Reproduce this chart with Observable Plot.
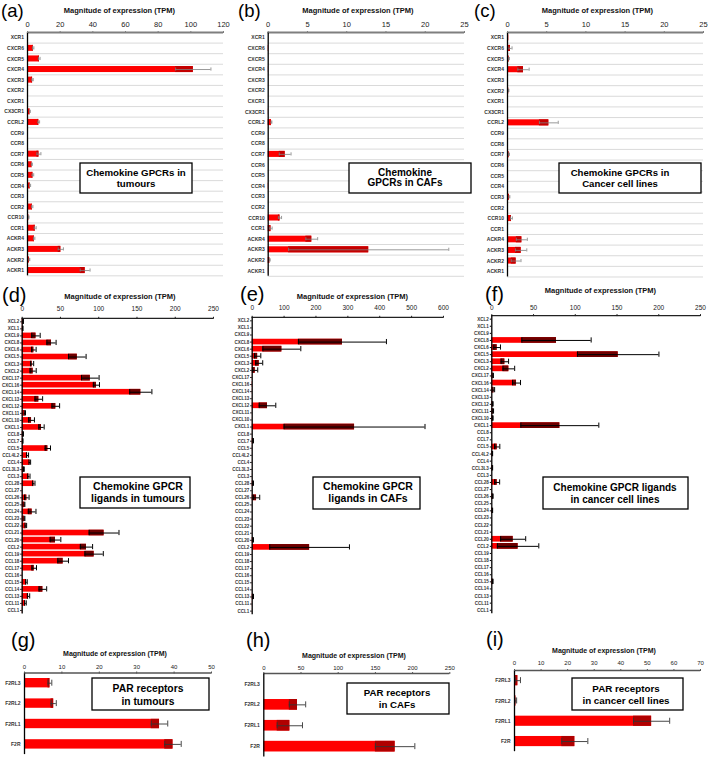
<!DOCTYPE html>
<html><head><meta charset="utf-8">
<script src="https://cdn.jsdelivr.net/npm/d3@7"></script>
<script src="https://cdn.jsdelivr.net/npm/@observablehq/plot@0.6"></script>
<style>
body{margin:0;background:#fff;}
#chart{position:relative;width:709px;height:758px;overflow:hidden;background:#fff;font-family:"Liberation Sans",Arial,sans-serif;}
</style></head><body><div id="chart"></div>
<script>
// ---------- DATA ----------
const receptorCats = ["XCR1","CXCR6","CXCR5","CXCR4","CXCR3","CXCR2","CXCR1","CX3CR1","CCRL2","CCR9","CCR8","CCR7","CCR6","CCR5","CCR4","CCR3","CCR2","CCR10","CCR1","ACKR4","ACKR3","ACKR2","ACKR1"];
const tumourReceptorVals = [0.3,3.5,7.2,101.5,3.1,0.5,0.5,1.5,6.9,0.2,0.5,7.0,2.7,3.3,1.6,0.3,2.9,0.8,4.7,4.1,20.4,1.2,35.3];
const tumourReceptorErrs = [0,0.4,0.5,10.8,0.4,0,0,0.2,0.5,0,0,1.2,0.3,0.5,0.3,0,0.4,0.1,0.6,0.4,1.6,0.2,3.0];
const cafReceptorVals = [0,0.05,0,0.02,0,0,0,0.02,0.42,0,0,2.16,0,0,0.03,0,0,1.5,0.35,5.55,12.8,0.2,0.02];
const cafReceptorErrs = [0,0,0,0,0,0,0,0,0.05,0,0,0.75,0,0,0,0,0,0.2,0.15,0.75,10.2,0.05,0];
const cellReceptorVals = [0.17,0.38,0.2,2.04,0.05,0.15,0.02,0.02,5.27,0.05,0.03,0.2,0.02,0.02,0.1,0.25,0.02,0.5,0.05,1.83,1.74,1.1,0];
const cellReceptorErrs = [0,0.2,0.05,0.72,0,0.03,0,0,1.2,0,0,0.05,0,0,0,0.05,0,0.12,0,0.7,0.72,0.62,0];

const ligandCats = ["XCL2","XCL1","CXCL9","CXCL8","CXCL6","CXCL5","CXCL3","CXCL2","CXCL17","CXCL16","CXCL14","CXCL13","CXCL12","CXCL11","CXCL10","CXCL1","CCL8","CCL7","CCL5","CCL4L2","CCL4","CCL3L3","CCL3","CCL28","CCL27","CCL26","CCL25","CCL24","CCL23","CCL22","CCL21","CCL20","CCL2","CCL19","CCL18","CCL17","CCL16","CCL15","CCL14","CCL13","CCL11","CCL1"];
const tumourLigandVals = [1.3,0.8,18,38.3,15.2,72,13,14.3,89,97,155,21.7,43.9,3.5,12.2,25.2,1.3,0.8,33.5,7,10,2.2,8.7,15.2,0.3,6,3,13,3,4.8,107,43.5,84,94,53.5,15.7,0.3,5.6,27,8.3,4.3,0.3];
const tumourLigandErrs = [0.3,0.2,5.5,6,3,11.5,2,4,11.5,4,14.5,5,5,0.8,3.8,3.5,0.3,0.2,3.5,1.3,1,0.5,1.5,1.5,0,3,0.5,5,0.5,1,19.5,7,8,12,7,3,0,1,5,1.5,1,0];
const cafLigandVals = [0,0,0,283,93,17,22,9.4,0.5,1,0.5,0.3,48,0.3,0.3,321,0.3,3,0.5,0.2,0.2,0.2,0.3,3,0.2,13.6,0.3,0.2,0.2,0.2,0.2,3,180,0.3,0.3,0.3,0.3,0.3,0.3,3,0.5,0.3];
const cafLigandErrs = [0,0,0,138,59.5,10,11,8,0,0,0,0,26,0,0,221,0,1,0,0,0,0,0,1,0,10,0,0,0,0,0,1,125,0,0,0,0,0,0,1,0,0];
const cellLigandVals = [0.2,0.1,0.1,77.5,6.4,151.4,15.6,20.4,1.6,29.6,2.4,0.2,1.2,1.6,1.2,81.5,0.1,0.1,6.4,0.8,0.2,0.8,0.1,6.4,0.2,1.2,0.1,0.8,0.1,0.1,0.1,25.6,31.5,0.1,0.1,0.1,0.1,1.2,0.1,0.1,0.1,0.1];
const cellLigandErrs = [0,0,0,41.5,4,48.8,4.5,7,0.3,4.8,1,0,0.4,0.5,0.4,46.7,0,0,3.2,0.2,0,0.2,0,3,0,0.4,0,0.2,0,0,0,15,24.8,0,0,0,0,0.3,0,0,0,0];

const parCats = ["F2RL3","F2RL2","F2RL1","F2R"];
const tumourParVals = [6.8,7.8,36.1,39.7];
const tumourParErrs = [0.5,0.7,2.2,2.2];
const cafParVals = [0,45.3,35,176.5];
const cafParErrs = [0,11,17,26.5];
const cellParVals = [1.25,0.5,51.6,22.7];
const cellParErrs = [1,0.3,6.8,4.9];

const ticksA = [0,20,40,60,80,100,120];
const ticks25 = [0,5,10,15,20,25];
const ticks250 = [0,50,100,150,200,250];
const ticks600 = [0,100,200,300,400,500,600];
const ticks50 = [0,10,20,30,40,50];
const ticks70 = [0,10,20,30,40,50,60,70];

const axisTitle = "Magnitude of expression (TPM)";
const letters = ["(a)","(b)","(c)","(d)","(e)","(f)","(g)","(h)","(i)"];
const boxTexts = [
  ["Chemokine GPCRs in","tumours"],
  ["Chemokine","GPCRs in CAFs"],
  ["Chemokine GPCRs in","Cancer cell lines"],
  ["Chemokine GPCR","ligands in tumours"],
  ["Chemokine GPCR","ligands in CAFs"],
  ["Chemokine GPCR ligands","in cancer cell lines"],
  ["PAR receptors","in tumours"],
  ["PAR receptors","in CAFs"],
  ["PAR receptors","in cancer cell lines"]
];

// ---------- LAYOUT / STYLE ----------
const FONT = "Liberation Sans, Arial, sans-serif";
const root = document.getElementById("chart");

const styleTop = {axis:"#7f7f7f", axisW:1.8, err:"#7f7f7f", errW:0.8, dark:"#c40000", cap:1.6, grid:true, tf:7.5, lf:5, yts:0, ytp:3.5};
const styleMid = {axis:"#222", axisW:1.3, err:"#000", errW:1, dark:"#6e0000", cap:2.6, grid:false, tf:6.5, lf:4.5, yts:1.5, ytp:1.5};
const styleBot = {axis:"#555", axisW:1.3, err:"#333", errW:0.9, dark:"#b00000", cap:3, grid:false, tf:6, lf:5, yts:0, ytp:4};

function panel(p) {
  const cats = p.cats, n = cats.length;
  const svgTop = Math.floor(p.top - 24);
  const bottom = p.top + n * p.step;
  const height = Math.ceil(bottom + 3 - svgTop);
  const data = cats.map((c, i) => ({i, v: p.vals[i], e: p.errs[i]}));
  const ed = data.filter(d => d.e > 0);
  const h = (1 - p.pad) / 2;
  const cap = p.cap / p.step;
  const lo = d => Math.max(0, d.v - d.e), hi = d => d.v + d.e;
  const marks = [];
  if (p.grid) marks.push(Plot.ruleY(data, {y: d => d.i + 0.5, x1: 0, x2: p.max, stroke: "#d0d0d0", strokeWidth: 0.8}));
  marks.push(
    Plot.rect(data, {x1: 0, x2: "v", y1: d => d.i - h, y2: d => d.i + h, fill: "#ff0000"}),
    Plot.rect(ed, {x1: lo, x2: "v", y1: d => d.i - h, y2: d => d.i + h, fill: p.dark}),
    Plot.ruleY(ed, {y: "i", x1: lo, x2: hi, stroke: p.err, strokeWidth: p.errW}),
    Plot.ruleX(ed, {x: hi, y1: d => d.i - cap, y2: d => d.i + cap, stroke: p.err, strokeWidth: p.errW}),
    Plot.ruleX(ed.filter(d => d.v - d.e > 0), {x: lo, y1: d => d.i - cap, y2: d => d.i + cap, stroke: p.err, strokeWidth: p.errW}),
    Plot.ruleY([-0.5], {x1: 0, x2: p.max, stroke: p.axis, strokeWidth: p.axisW}),
    Plot.ruleX([0], {stroke: "#000", strokeWidth: 1.3}),
    Plot.axisX({anchor: "top", ticks: p.ticks, tickSize: 2, tickPadding: p.tp, fontSize: p.tf, stroke: p.axis, fill: "#222", label: null}),
    Plot.axisY({anchor: "left", ticks: d3.range(n), tickFormat: i => cats[i], tickSize: p.yts, tickPadding: p.ytp, fontSize: p.lf, fontWeight: "bold", fill: "#333", stroke: "#000", label: null})
  );
  const svg = Plot.plot({
    width: p.width, height,
    marginLeft: p.x0 - p.left, marginRight: p.width - (p.x1 - p.left),
    marginTop: p.top - svgTop, marginBottom: height - (bottom - svgTop),
    x: {domain: [0, p.max]},
    y: {domain: [-0.5, n - 0.5], reverse: true},
    style: {fontFamily: FONT, background: "none", overflow: "visible", color: "#222"},
    marks
  });
  svg.style.position = "absolute";
  svg.style.left = p.left + "px";
  svg.style.top = svgTop + "px";
  root.appendChild(svg);
}

const panels = [
  {...styleTop, cats: receptorCats, vals: tumourReceptorVals, errs: tumourReceptorErrs, max: 120, ticks: ticksA, left: 0, width: 235, x0: 27, x1: 223, top: 32, step: 10.58, pad: 0.43, tp: 3.3},
  {...styleTop, cats: receptorCats, vals: cafReceptorVals, errs: cafReceptorErrs, max: 25, ticks: ticks25, left: 236, width: 234, x0: 267.7, x1: 464, top: 32, step: 10.6, pad: 0.43, tp: 3.3},
  {...styleTop, cats: receptorCats, vals: cellReceptorVals, errs: cellReceptorErrs, max: 25, ticks: ticks25, left: 470, width: 239, x0: 507, x1: 703, top: 32, step: 10.63, pad: 0.43, tp: 3.3},
  {...styleMid, cats: ligandCats, vals: tumourLigandVals, errs: tumourLigandErrs, max: 250, ticks: ticks250, left: 0, width: 236, x0: 21.7, x1: 213, top: 317.8, step: 7.04, pad: 0.2, tp: 5},
  {...styleMid, cats: ligandCats, vals: cafLigandVals, errs: cafLigandErrs, max: 600, ticks: ticks600, left: 236, width: 234, x0: 251.7, x1: 443, top: 316.8, step: 7.08, pad: 0.2, tp: 5},
  {...styleMid, cats: ligandCats, vals: cellLigandVals, errs: cellLigandErrs, max: 250, ticks: ticks250, left: 470, width: 239, x0: 491.3, x1: 700, top: 315.1, step: 7.1, pad: 0.2, tp: 4},
  {...styleBot, cats: parCats, vals: tumourParVals, errs: tumourParErrs, max: 50, ticks: ticks50, left: 0, width: 236, x0: 24, x1: 211, top: 672.5, step: 20.4, pad: 0.54, tp: 2.5},
  {...styleBot, cats: parCats, vals: cafParVals, errs: cafParErrs, max: 250, ticks: ticks250, left: 236, width: 234, x0: 263.3, x1: 449.3, top: 673, step: 20.9, pad: 0.49, tp: 1.5},
  {...styleBot, cats: parCats, vals: cellParVals, errs: cellParErrs, max: 70, ticks: ticks70, left: 470, width: 239, x0: 514, x1: 700, top: 670, step: 20.3, pad: 0.5, tp: 4}
];
panels.forEach(panel);

// ---------- ANNOTATIONS ----------
const letterPos = [[1,17,18.5],[238,17,18.5],[474,17,18.5],[2,302,20],[240,300.5,20],[485,300.5,20],[11,646.5,20],[246,646.5,20],[486,646,20]];
const titlePos = [[119.5,10,7.5],[358,10,7.5],[597.5,10,7.5],[120,296.7,7.5],[352.5,296,7.5],[600.5,290.7,7.5],[115,653,7],[354,655,7],[604,650.7,7]];
const boxPos = [
  {x:80,y:163,w:112,h:30,cx:136,ly:[172.3,183.3],fs:9.7},
  {x:349,y:163,w:122,h:30,cx:405,ly:[172.3,182.7],fs:10},
  {x:559,y:163,w:142,h:30,cx:620,ly:[172.3,183.3],fs:9.6},
  {x:80,y:477,w:110,h:31,cx:138,ly:[486,498.7],fs:10.5},
  {x:313,y:477,w:107,h:32,cx:368,ly:[486.3,498.7],fs:10.5},
  {x:543,y:477,w:145,h:32,cx:615,ly:[487,499.3],fs:10},
  {x:92,y:678,w:117,h:32,cx:148,ly:[688.3,701],fs:10.3},
  {x:347,y:683,w:102,h:31,cx:397,ly:[692.7,704.3],fs:9.7},
  {x:572,y:678,w:111,h:32,cx:626,ly:[688.3,700.7],fs:9.8}
];

const ov = d3.create("svg").attr("width", 709).attr("height", 758)
  .style("position", "absolute").style("left", "0px").style("top", "0px")
  .style("font-family", FONT);

letters.forEach((t, k) => {
  ov.append("text").attr("x", letterPos[k][0]).attr("y", letterPos[k][1])
    .attr("font-size", letterPos[k][2]).attr("fill", "#000").text(t);
  ov.append("text").attr("x", titlePos[k][0]).attr("y", titlePos[k][1] + titlePos[k][2] * 0.36)
    .attr("font-size", titlePos[k][2]).attr("font-weight", "bold").attr("text-anchor", "middle").attr("fill", "#111").text(axisTitle);
  const b = boxPos[k];
  ov.append("rect").attr("x", b.x).attr("y", b.y).attr("width", b.w).attr("height", b.h)
    .attr("fill", "#fff").attr("stroke", "#000").attr("stroke-width", 1.3);
  boxTexts[k].forEach((line, j) => {
    ov.append("text").attr("x", b.cx).attr("y", b.ly[j] + b.fs * 0.36)
      .attr("font-size", b.fs).attr("font-weight", "bold").attr("text-anchor", "middle").attr("fill", "#000").text(line);
  });
});
root.appendChild(ov.node());
</script>
</body></html>
